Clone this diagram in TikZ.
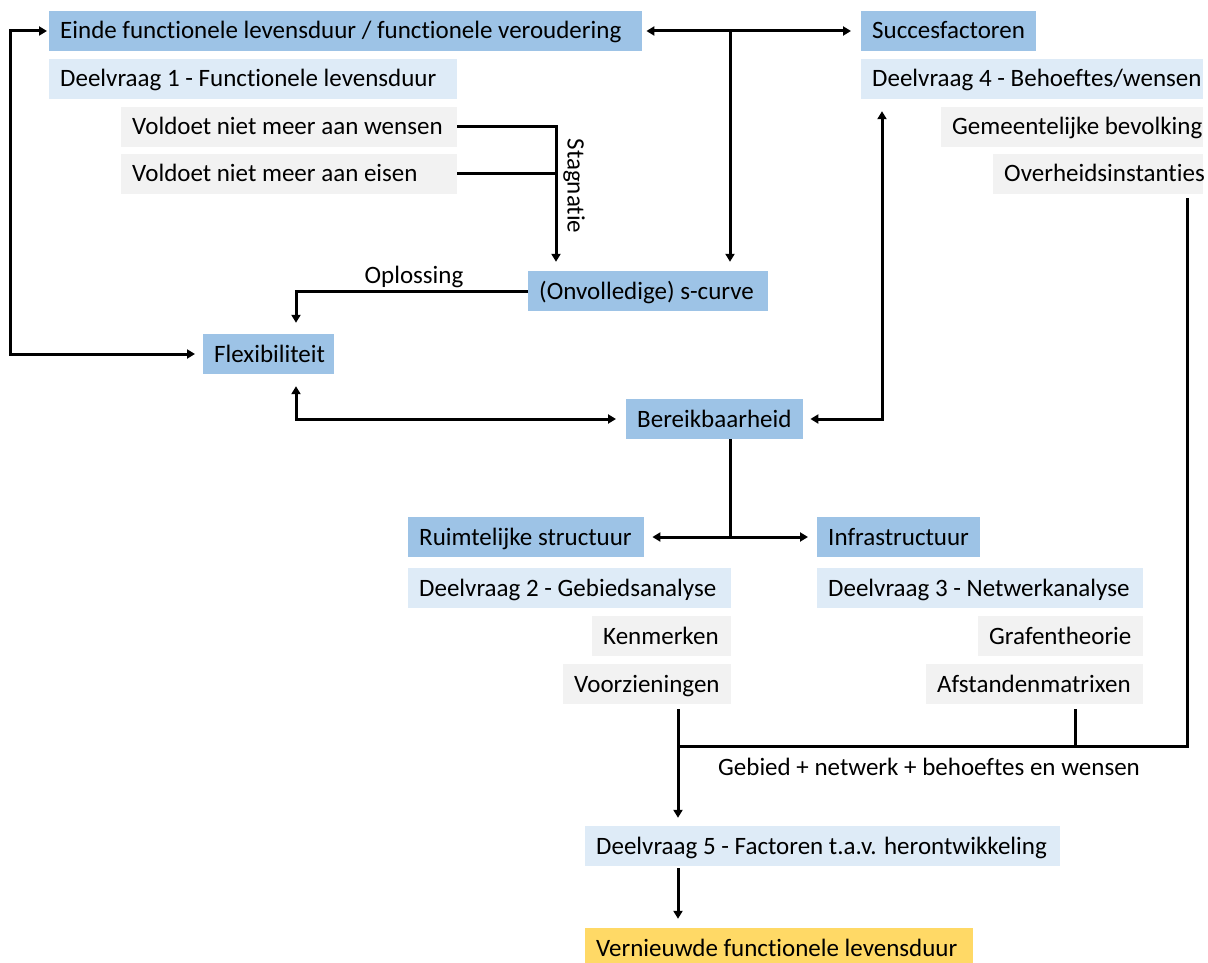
\documentclass[tikz,border=0pt]{standalone}
\usepackage{fontspec}
\setmainfont{Carlito}[Ligatures=NoCommon]
\usetikzlibrary{arrows.meta}
\definecolor{bdark}{HTML}{9DC3E6}
\definecolor{blight}{HTML}{DEEBF7}
\definecolor{gbox}{HTML}{F2F2F2}
\definecolor{ybox}{HTML}{FFD966}
\tikzset{
  base/.style={anchor=west, minimum height=40pt, inner ysep=0pt, inner xsep=11pt,
    text height=20pt, text depth=4pt,
    font=\fontsize{25}{30}\selectfont, text=black},
  head/.style={base, fill=bdark},
  sub/.style={base, fill=blight},
  item/.style={base, fill=gbox},
  goal/.style={base, fill=ybox},
  conn/.style={line width=3pt, >={Triangle[length=8pt,width=9pt]}},
  lbl/.style={font=\fontsize{25}{30}\selectfont, inner sep=0pt}
}
% box: style, name, left x, centre y, text width (box width minus padding), text
\newcommand\bx[6]{\node[#1, text width=#5pt] (#2) at (#3,#4)
  {\spaceskip=0pt\xspaceskip=0pt\mbox{#6}};}
\begin{document}
\begin{tikzpicture}[x=1pt,y=-1pt]
\useasboundingbox[fill=white] (0,0) rectangle (1208,963);

% boxes
\bx{head}{einde}{49}{31}{571}{Einde functionele levensduur / functionele veroudering}
\bx{sub}{dv1}{49}{79}{386}{Deelvraag 1 - Functionele levensduur}
\bx{item}{wens}{121}{127}{314}{Voldoet niet meer aan wensen}
\bx{item}{eisen}{121}{174}{314}{Voldoet niet meer aan eisen}

\bx{head}{succ}{861}{31}{153}{Succesfactoren}
\bx{sub}{dv4}{861}{79}{320}{Deelvraag 4 - Behoeftes/wensen}
\bx{item}{gem}{941}{127}{240}{Gemeentelijke bevolking}
\bx{item}{overh}{993}{174}{188}{Overheidsinstanties}

\bx{head}{scurve}{528}{291}{218}{(Onvolledige) s-curve}
\bx{head}{flex}{203}{354}{109}{Flexibiliteit}
\bx{head}{bereik}{626}{419}{155}{Bereikbaarheid}

\bx{head}{ruimt}{408}{537}{214}{Ruimtelijke structuur}
\bx{sub}{dv2}{408}{588}{301}{Deelvraag 2 - Gebiedsanalyse}
\bx{item}{kenm}{592}{636}{117}{Kenmerken}
\bx{item}{voorz}{563}{684}{146}{Voorzieningen}

\bx{head}{infra}{817}{537}{141}{Infrastructuur}
\bx{sub}{dv3}{817}{588}{304}{Deelvraag 3 - Netwerkanalyse}
\bx{item}{graf}{978}{636}{143}{Grafentheorie}
\bx{item}{afst}{926}{684}{195}{Afstandenmatrixen}

\bx{sub}{dv5}{585}{846}{453}{Deelvraag 5 - Factoren t.a.v. herontwikkeling}
\bx{goal}{vern}{585}{948}{366}{Vernieuwde functionele levensduur}

% routing columns and rows
\coordinate (tj) at (730,0);
\coordinate (sj) at (556,0);
\coordinate (ox) at (296,0);
\coordinate (lx) at (10,0);
\coordinate (rx4) at (882,0);
\coordinate (bx) at (730,0);
\coordinate (vx) at (678,0);
\coordinate (ax) at (1075,0);
\coordinate (rx) at (1187,0);
\coordinate (hy) at (0,746);

% top: veroudering <-> succesfactoren, branch to s-curve
\draw[conn, <->, shorten <=4pt, shorten >=10pt] (einde.east) -- (succ.west);
\draw[conn, ->, shorten >=9pt] (einde.east -| tj) -- (scurve.north -| tj);

% stagnatie
\draw[conn, ->, shorten >=9pt] (wens.east) -| (scurve.north -| sj);
\draw[conn] (eisen.east) -- (eisen.east -| sj);
\node[lbl, rotate=-90] (stag) at (574,186) {Stagnatie};

% oplossing
\draw[conn, ->, shorten >=11pt] (scurve.west) -| (flex.north -| ox);
\node[lbl] (opl) at (414,277) {Oplossing};

% left loop
\draw[conn, <->, shorten <=2pt, shorten >=8pt] (einde.west) -- (einde.west -| lx) |- (flex.west);

% flexibiliteit <-> bereikbaarheid
\draw[conn, <->, shorten <=12pt, shorten >=10pt] (flex.south -| ox) |- (bereik.west);

% bereikbaarheid <-> deelvraag 4
\draw[conn, <->, shorten <=7pt, shorten >=12pt] (bereik.east) -| (dv4.south -| rx4);

% bereikbaarheid split
\draw[conn] (bereik.south -| bx) -- (ruimt.east -| bx);
\draw[conn, <->, shorten <=8pt, shorten >=9pt] (ruimt.east) -- (infra.west);

% bottom merge
\draw[conn, ->, shorten <=5pt, shorten >=8pt] (voorz.south -| vx) -- (dv5.north -| vx);
\draw[conn] ([yshift=-4pt]overh.south -| rx) -- (rx |- hy) -- (vx |- hy);
\draw[conn] ([yshift=-5pt]afst.south -| ax) -- (ax |- hy);
\node[lbl] (geb) at (929,767) {Gebied + netwerk + behoeftes en wensen};

\draw[conn, ->, shorten <=2pt, shorten >=9pt] (dv5.south -| vx) -- (vern.north -| vx);
\end{tikzpicture}
\end{document}
